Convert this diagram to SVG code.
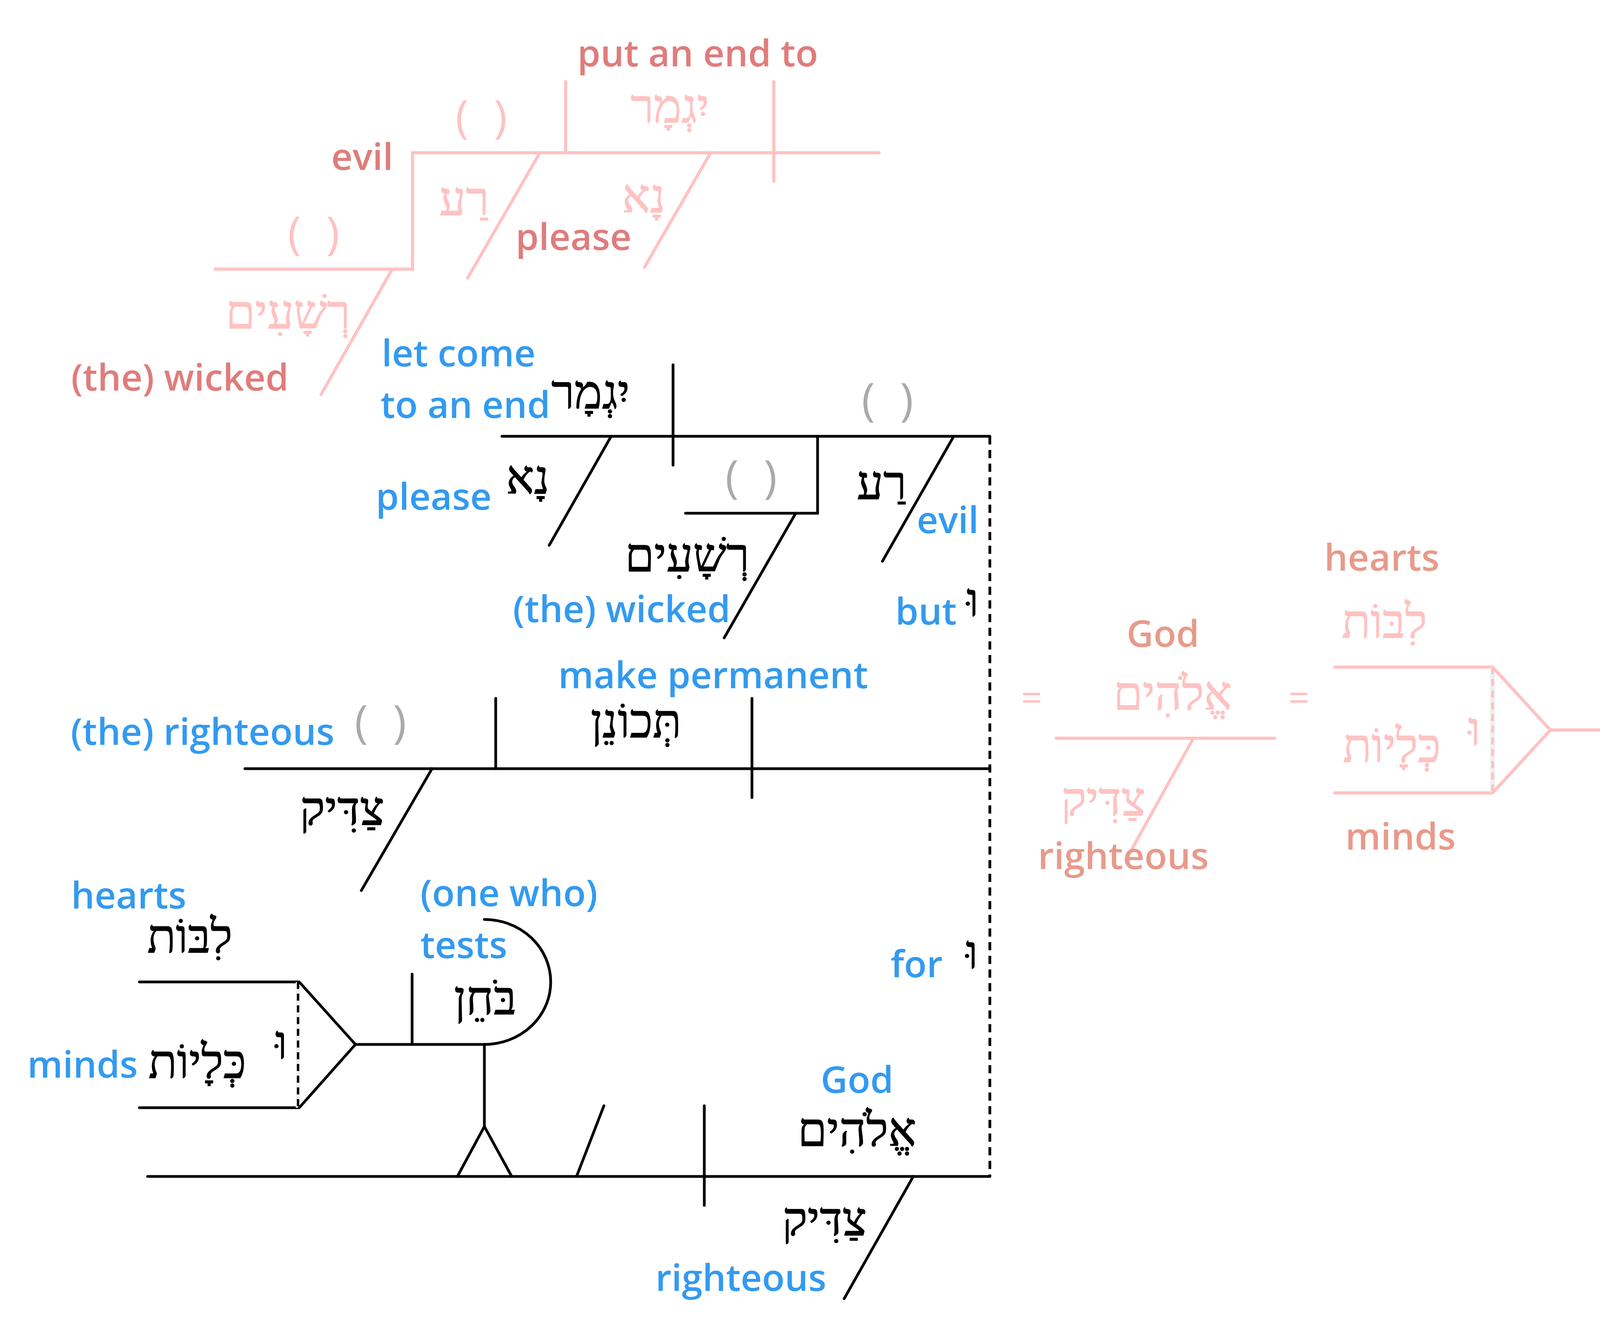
<svg xmlns="http://www.w3.org/2000/svg" width="4704" height="3400" viewBox="0 0 4704 3400">
<style>
.en{font-family:"Open Sans","Liberation Sans",sans-serif;font-weight:600;font-size:95px}
.he{font-family:"Liberation Serif","DejaVu Sans",serif;font-size:120px;text-anchor:middle;stroke-width:1.6px}
.par{font-family:"Open Sans","Liberation Sans",sans-serif;font-weight:400;font-size:116px;text-anchor:middle;word-spacing:34px}
.blue{fill:#339AF0}
.pk1{fill:#E07C7C}
.pk2{fill:#E89A8B}
.pkh{fill:#FFC2C2;stroke:#FFC2C2}
.blk{fill:#000;stroke:#000}
.gry{fill:#AAAAAA}
.pkp{fill:#FFC2C2}
.lb{stroke:#000;stroke-width:7;fill:none;stroke-linecap:round}
.lp{stroke:#FFC2C2;stroke-width:8;fill:none;stroke-linecap:round}
.db{stroke:#000;stroke-width:7;fill:none;stroke-dasharray:21 14}
.dp{stroke:#FFC2C2;stroke-width:7;fill:none;stroke-dasharray:18 12}
.dbf{stroke:#000;stroke-width:6;fill:none;stroke-dasharray:18 12}
.bg{stroke:#EFEFEF;stroke-width:12;fill:none}
</style>
<rect width="4704" height="3400" fill="#fff"/>
<g id="connectors">
  <line class="lp" x1="1056" y1="391" x2="2250" y2="391"/>
  <line class="lp" x1="1448" y1="209" x2="1448" y2="391"/>
  <line class="lp" x1="1981" y1="209" x2="1981" y2="464"/>
  <line class="lp" x1="1056" y1="391" x2="1056" y2="689"/>
  <line class="lp" x1="551" y1="689" x2="1056" y2="689"/>
  <line class="lp" x1="1381" y1="393" x2="1197" y2="712"/>
  <line class="lp" x1="1818" y1="393" x2="1650" y2="684"/>
  <line class="lp" x1="1003" y1="691" x2="822" y2="1010"/>
  <line class="lb" x1="1285" y1="1117" x2="2534" y2="1117"/>
  <line class="lb" x1="1723" y1="934" x2="1723" y2="1191"/>
  <line class="lb" x1="2093" y1="1117" x2="2093" y2="1314"/>
  <line class="lb" x1="1755" y1="1314" x2="2093" y2="1314"/>
  <line class="lb" x1="1564" y1="1118" x2="1406" y2="1396"/>
  <line class="lb" x1="2441" y1="1118" x2="2259" y2="1437"/>
  <line class="lb" x1="2037" y1="1314" x2="1854" y2="1633"/>
  <line class="db" x1="2534" y1="1117" x2="2534" y2="3012"/>
  <line class="lb" x1="627" y1="1968" x2="2534" y2="1968"/>
  <line class="lb" x1="1269" y1="1788" x2="1269" y2="1968"/>
  <line class="lb" x1="1925" y1="1788" x2="1925" y2="2042"/>
  <line class="lb" x1="1106" y1="1968" x2="925" y2="2280"/>
  <line class="lb" x1="357" y1="2514" x2="763" y2="2514"/>
  <line class="lb" x1="357" y1="2836" x2="763" y2="2836"/>
  <line class="bg" x1="763" y1="2514" x2="763" y2="2836"/>
  <line class="dbf" x1="763" y1="2514" x2="763" y2="2836"/>
  <line class="lb" x1="766" y1="2514" x2="910" y2="2674"/>
  <line class="lb" x1="766" y1="2836" x2="910" y2="2674"/>
  <line class="lb" x1="910" y1="2674" x2="1240" y2="2674"/>
  <path class="lb" d="M1240,2354 A170,160 0 0 1 1240,2674"/>
  <line class="lb" x1="1055" y1="2494" x2="1055" y2="2674"/>
  <line class="lb" x1="1240" y1="2674" x2="1240" y2="2884"/>
  <polyline class="lb" points="1171,3012 1240,2884 1310,3012"/>
  <line class="lb" x1="378" y1="3012" x2="2534" y2="3012"/>
  <line class="lb" x1="1476" y1="3012" x2="1546" y2="2831"/>
  <line class="lb" x1="1803" y1="2831" x2="1803" y2="3086"/>
  <line class="lb" x1="2338" y1="3012" x2="2161" y2="3325"/>
  <line class="lp" x1="2704" y1="1890" x2="3263" y2="1890"/>
  <line class="lp" x1="3055" y1="1890" x2="2882" y2="2202"/>
  <line class="lp" x1="3417" y1="1708" x2="3821" y2="1708"/>
  <line class="lp" x1="3417" y1="2030" x2="3821" y2="2030"/>
  <line class="bg" x1="3821" y1="1708" x2="3821" y2="2030"/>
  <line class="dp" x1="3821" y1="1708" x2="3821" y2="2030"/>
  <line class="lp" x1="3821" y1="1708" x2="3969" y2="1869"/>
  <line class="lp" x1="3821" y1="2030" x2="3969" y2="1869"/>
  <line class="lp" x1="3969" y1="1869" x2="4264" y2="1869"/>
  <path class="lp" d="M4264,1582 A141,143 0 0 1 4264,1869"/>
  <line class="lp" x1="4112" y1="1688" x2="4112" y2="1869"/>
  <line class="lp" x1="4488" y1="1337" x2="4697" y2="1337"/>
</g>
<g id="p-yigmar"><text class="en pk1" x="1478" y="170">put an end to</text><text class="he pkh" x="1715" y="313">יִגְמָר</text></g>
<g id="p-na"><text class="he pkh" x="1648" y="543">נָא</text><text class="en pk1" x="1320" y="640">please</text></g>
<g id="p-ra"><text class="par pkp" x="1232" y="340">( )</text><text class="en pk1" x="848" y="435">evil</text><text class="he pkh" x="1188" y="550">רַע</text></g>
<g id="p-reshaim"><text class="par pkp" x="803" y="638">( )</text><text class="he pkh" x="737" y="840">רְשָׁעִים</text><text class="en pk1" x="182" y="1000">(the) wicked</text></g>
<g id="b-yigmar"><text class="en blue" x="977" y="938">let come</text><text class="en blue" x="974" y="1070">to an end</text><text class="he blk" x="1512" y="1045">יִגְמָר</text></g>
<g id="b-na"><text class="en blue" x="962" y="1305">please</text><text class="he blk" x="1351" y="1263">נָא</text></g>
<g id="b-ra"><text class="par gry" x="2272" y="1064">( )</text><text class="he blk" x="2257" y="1277">רַע</text><text class="en blue" x="2347" y="1365">evil</text></g>
<g id="b-reshaim"><text class="par gry" x="1923" y="1262">( )</text><text class="he blk" x="1759" y="1462">רְשָׁעִים</text><text class="en blue" x="1313" y="1593">(the) wicked</text></g>
<g id="b-but"><text class="en blue" x="2292" y="1599">but</text><text class="he blk" x="2490" y="1577">וּ</text></g>
<g id="b-tekonen"><text class="en blue" x="1429" y="1762">make permanent</text><text class="he blk" x="1628" y="1887">תְּכוֹנֵן</text></g>
<g id="b-tsaddiq1"><text class="en blue" x="181" y="1907">(the) righteous</text><text class="par gry" x="974" y="1889">( )</text><text class="he blk" x="876" y="2111">צַדִּיק</text></g>
<g id="b-levot"><text class="en blue" x="182" y="2326">hearts</text><text class="he blk" x="486" y="2438">לִבּוֹת</text></g>
<g id="b-kelayot"><text class="en blue" x="70" y="2759">minds</text><text class="he blk" x="505" y="2759">כְּלָיוֹת</text><text class="he blk" x="720" y="2710">וּ</text></g>
<g id="b-bochen"><text class="en blue" x="1076" y="2320">(one who)</text><text class="en blue" x="1076" y="2453">tests</text><text class="he blk" x="1242" y="2596">בֹּחֵן</text></g>
<g id="b-for"><text class="en blue" x="2280" y="2502">for</text><text class="he blk" x="2488" y="2479">וּ</text></g>
<g id="b-elohim"><text class="en blue" x="2101" y="2798">God</text><text class="he blk" x="2194" y="2933">אֱלֹהִים</text></g>
<g id="b-tsaddiq2"><text class="he blk" x="2111" y="3162">צַדִּיק</text><text class="en blue" x="1678" y="3305">righteous</text></g>
<g id="p-eq1"><text class="par pkp" x="2641" y="1820" style="font-size:95px">=</text></g>
<g id="p-elohim"><text class="en pk2" x="2884" y="1656">God</text><text class="he pkh" x="3002" y="1816">אֱלֹהִים</text></g>
<g id="p-tsaddiq"><text class="he pkh" x="2825" y="2087">צַדִּיק</text><text class="en pk2" x="2657" y="2225">righteous</text></g>
<g id="p-eq2"><text class="par pkp" x="3325" y="1820" style="font-size:95px">=</text></g>
<g id="p-levot"><text class="en pk2" x="3390" y="1461">hearts</text><text class="he pkh" x="3544" y="1632">לִבּוֹת</text></g>
<g id="p-kelayot"><text class="he pkh" x="3563" y="1950">כְּלָיוֹת</text><text class="he pkh" x="3774" y="1907">וּ</text><text class="en pk2" x="3444" y="2175">minds</text></g>
<g id="p-bochen"><text class="he pkh" x="4235" y="1793">בֹּחֵן</text><text class="en pk2" x="4104" y="1997">(one who)</text><text class="en pk2" x="4104" y="2129">tests</text></g>
<g id="p-and"><text class="en pk2" x="4379" y="1271">And</text><text class="he pkh" x="4615" y="1263">וּ</text></g>
</svg>
